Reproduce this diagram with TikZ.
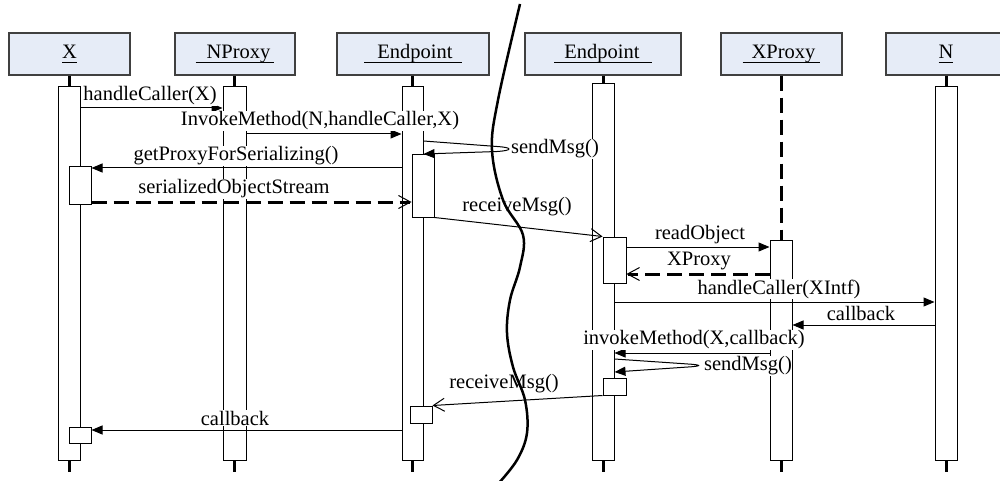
\documentclass[tikz,border=0pt]{standalone}
\usepackage{fontspec}
\setmainfont{Liberation Serif}
\usetikzlibrary{arrows.meta,fit,calc}
\definecolor{hdrfill}{HTML}{E6ECF7}
\definecolor{hdrline}{HTML}{404040}
\newcommand\hdrtext[1]{\setbox0=\hbox{#1}\rlap{\copy0}\lower3pt\hbox{\vrule width\wd0 height0pt depth1.3pt}}
\begin{document}
\begin{tikzpicture}[x=1pt,y=-1pt,
 hdr/.style={draw=hdrline, line width=1.2pt, fill=hdrfill, inner sep=0pt, minimum height=42pt, text height=14pt, text depth=4.5pt, font=\fontsize{20.5}{24}\selectfont},
 act/.style={draw=black, line width=1pt, fill=white, inner sep=0pt},
 stub/.style={line width=3pt},
 msg/.style={line width=1pt, -{Triangle[length=11pt,width=9pt]}},
 openmsg/.style={line width=1pt, -{Straight Barb[length=11pt,width=13pt,line width=1pt]}},
 ret/.style={line width=3pt, dash pattern=on 15pt off 7pt, -{Straight Barb[length=12pt,width=13pt,line width=1pt]}},
 lbl/.style={fill=white, inner sep=0.5pt, font=\fontsize{20.5}{24}\selectfont},
]
\useasboundingbox (0,0) rectangle (1000,481);
\fill[white] (0,0) rectangle (1000,481);

% headers
\node[hdr, minimum width=121pt] (hX) at (69.5,54) {\hdrtext{X}};
\node[hdr, minimum width=120pt] (hNP) at (235,54) {\hdrtext{\hspace{11pt}NProxy\hspace{4pt}}};
\node[hdr, minimum width=152pt] (hE1) at (413,54) {\hdrtext{\hspace{13pt}Endpoint\hspace{9pt}}};
\node[hdr, minimum width=156pt] (hE2) at (603,54) {\hdrtext{\hspace{10pt}Endpoint\hspace{12pt}}};
\node[hdr, minimum width=121pt] (hXP) at (781.5,54) {\hdrtext{\hspace{9pt}XProxy\hspace{5pt}}};
\node[hdr, minimum width=120pt] (hN) at (946,54) {\hdrtext{N}};

% activation bars
\node[act, fit={(58,87) (80,460)}] (aX) {};
\node[act, fit={(223,87) (246,460)}] (aNP) {};
\node[act, fit={(402,87) (423,460)}] (aE1) {};
\node[act, fit={(592,84) (614,460)}] (aE2) {};
\node[act, fit={(770,240) (792,460)}] (aXP) {};
\node[act, fit={(935,87) (957,460)}] (aN) {};

% nested activations
\node[act, fit={(69,167) (91,204)}] (nX1) {};
\node[act, fit={(69,427) (91,443)}] (nX2) {};
\node[act, fit={(412,155) (434,217)}] (nE1a) {};
\node[act, fit={(410,406) (432,423)}] (nE1b) {};
\node[act, fit={(603,237) (626,283)}] (nE2a) {};
\node[act, fit={(603,378) (626,395)}] (nE2b) {};

% lifeline stubs
\coordinate (bot) at (0,472);
\foreach \a/\h in {aX/hX, aNP/hNP, aE1/hE1, aE2/hE2, aN/hN} {
  \draw[stub] (\h.south -| \a.north) -- (\a.north);
}
\foreach \a in {aX, aNP, aE1, aE2, aXP, aN} {
  \draw[stub] (\a.south) -- (\a.south |- bot);
}
\draw[line width=3pt, dash pattern=on 15pt off 7pt] (hXP.south -| aXP.north) -- (aXP.north);

% message levels
\coordinate (y1) at (0,108);
\coordinate (y2) at (0,134);
\coordinate (y3a) at (0,141);
\coordinate (y3b) at (0,154);
\coordinate (y4) at (0,168);
\coordinate (y5) at (0,202);
\coordinate (y7) at (0,247);
\coordinate (y8) at (0,274);
\coordinate (y9) at (0,302);
\coordinate (y10) at (0,325);
\coordinate (y11) at (0,353);
\coordinate (y12a) at (0,359);
\coordinate (y12b) at (0,372);
\coordinate (y14) at (0,430);
\coordinate (loop1a) at (497,146.5);
\coordinate (loop1b) at (497,151.5);
\coordinate (loop2a) at (688,364);
\coordinate (loop2b) at (688,367);

% messages
\draw[msg] (aX.east |- y1) -- (aNP.west |- y1);
\draw[msg] (aNP.east |- y2) -- (aE1.west |- y2);
\draw[msg] (aE1.east |- y3a) -- (loop1a) .. controls (513,147.5) and (513,150.5) .. (loop1b) -- (aE1.east |- y3b);
\draw[msg] (aE1.west |- y4) -- (nX1.east |- y4);
\draw[ret] (nX1.east |- y5) -- (nE1a.west |- y5);
\draw[openmsg] (nE1a.south east) -- (nE2a.north west);
\draw[msg] (nE2a.east |- y7) -- (aXP.west |- y7);
\draw[ret] (aXP.west |- y8) -- (nE2a.east |- y8);
\draw[msg] (aE2.east |- y9) -- (aN.west |- y9);
\draw[msg] (aN.west |- y10) -- (aXP.east |- y10);
\draw[msg] (aXP.west |- y11) -- (aE2.east |- y11);
\draw[msg] (aE2.east |- y12a) -- (loop2a) .. controls (702,364.8) and (702,366.2) .. (loop2b) -- (aE2.east |- y12b);
\draw[openmsg] (nE2b.south west) -- (nE1b.north east);
\draw[msg] (aE1.west |- y14) -- (nX2.east |- y14);

% labels
\node[lbl] (l1) at (150,96) {handleCaller(X)};
\node[lbl] (l2) at (320,121) {InvokeMethod(N,handleCaller,X)};
\node[lbl] (l3) at (555,149) {sendMsg()};
\node[lbl] (l4) at (236,156) {getProxyForSerializing()};
\node[lbl] (l5) at (234,189) {serializedObjectStream};
\node[lbl] (l6) at (517,207) {receiveMsg()};
\node[lbl] (l7) at (700,235) {readObject};
\node[lbl] (l8) at (699,261) {XProxy};
\node[lbl] (l9) at (779,289) {handleCaller(XIntf)};
\node[lbl] (l10) at (861,313) {callback};
\node[lbl] (l11) at (694,340) {invokeMethod(X,callback)};
\node[lbl] (l12) at (748,366) {sendMsg()};
\node[lbl] (l13) at (504,384) {receiveMsg()};
\node[lbl] (l14) at (235,418) {callback};

% separating curve
\draw[line width=2.5pt] plot[smooth, tension=0.6] coordinates {(520,4) (498,100) (492,150) (503,200) (523,235) (520,267) (510,300) (507,333) (513,367) (525,400) (527,433) (517,460) (498,484)};
\end{tikzpicture}
\end{document}
